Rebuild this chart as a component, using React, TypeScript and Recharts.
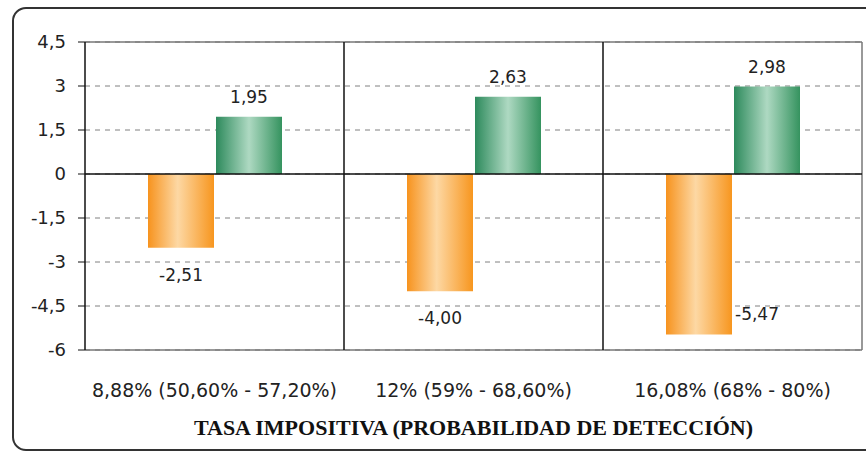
import { Bar, BarChart, CartesianGrid, LabelList, ReferenceLine, XAxis, YAxis } from 'recharts'

const categories = ['8,88%  (50,60% - 57,20%)', '12% (59% - 68,60%)', '16,08% (68% - 80%)']
const lossValues = [-2.51, -4.0, -5.47]
const gainValues = [1.95, 2.63, 2.98]
const yTicks = [-6, -4.5, -3, -1.5, 0, 1.5, 3, 4.5]
const axisTitle = 'TASA IMPOSITIVA (PROBABILIDAD DE DETECCIÓN)'

const data = categories.map((name, i) => ({ name, idx: i + 0.5, loss: lossValues[i], gain: gainValues[i] }))

const CHART_W = 866
const CHART_H = 454
const X_AXIS_H = 104
const PLOT_BOTTOM = CHART_H - X_AXIS_H
const font = 'Tahoma, "DejaVu Sans", sans-serif'

const comma = (v: number, digits?: number) =>
  (digits === undefined ? String(v) : v.toFixed(digits)).replace('.', ',')

function ValueLabel(props: any) {
  const { x, y, width, height, value } = props
  const top = Math.min(y, y + height)
  const bottom = Math.max(y, y + height)
  const text = comma(Number(value), 2)
  let tx = x + width / 2
  let ty = value >= 0 ? top - 20 : bottom + 27
  let anchor: 'middle' | 'start' = 'middle'
  if (ty + 8 > PLOT_BOTTOM) {
    tx = x + width + 3
    ty = bottom - 20
    anchor = 'start'
  }
  return (
    <text x={tx} y={ty} dy="0.35em" textAnchor={anchor} fill="#222" fontSize={17} fontFamily={font}>
      {text}
    </text>
  )
}

function CategoryTick(props: any) {
  const { x, y, payload } = props
  return (
    <text x={x} y={y + 32} dy="0.35em" textAnchor="middle" fill="#222" fontSize={19} fontFamily={font}>
      {payload.value}
    </text>
  )
}

export default function App() {
  return (
    <div style={{ position: 'absolute', left: 0, top: 0, width: CHART_W, height: CHART_H, background: '#fff' }}>
      <div
        style={{
          position: 'absolute',
          left: 12,
          top: 7,
          width: 880,
          height: 444,
          border: '2px solid #333',
          borderRadius: 14,
          boxSizing: 'border-box',
        }}
      />
      <BarChart
        width={CHART_W}
        height={CHART_H}
        data={data}
        margin={{ top: 42, right: 4, bottom: 0, left: 0 }}
        barSize={66}
        barGap={2}
        style={{ position: 'absolute', left: 0, top: 0 }}
      >
        <defs>
          <linearGradient id="orangeGrad" x1="0" y1="0" x2="1" y2="0">
            <stop offset="0" stopColor="#f7931e" />
            <stop offset="0.45" stopColor="#fdd8a4" />
            <stop offset="1" stopColor="#f7961f" />
          </linearGradient>
          <linearGradient id="greenGrad" x1="0" y1="0" x2="1" y2="0">
            <stop offset="0" stopColor="#2d8a5c" />
            <stop offset="0.5" stopColor="#aed9c2" />
            <stop offset="1" stopColor="#35935f" />
          </linearGradient>
        </defs>
        <CartesianGrid vertical={false} stroke="#808080" strokeDasharray="5 5" />
        <XAxis
          dataKey="name"
          height={X_AXIS_H}
          axisLine={false}
          tickLine={false}
          interval={0}
          tick={<CategoryTick />}
          label={{
            value: axisTitle,
            position: 'insideBottom',
            offset: 19,
            fill: '#111',
            fontSize: 22,
            fontWeight: 'bold',
            fontFamily: '"Liberation Serif", "Times New Roman", serif',
          }}
        />
        <XAxis xAxisId="sep" dataKey="idx" type="number" domain={[0, 3]} allowDataOverflow hide />
        <YAxis
          width={85}
          domain={[-6, 4.5]}
          ticks={yTicks}
          interval={0}
          axisLine={{ stroke: '#111', strokeWidth: 1.5 }}
          tickLine={{ stroke: '#111' }}
          tickSize={7}
          tickMargin={12}
          tickFormatter={(v) => comma(v)}
          tick={{ fill: '#222', fontSize: 18, fontFamily: font }}
        />
        <ReferenceLine y={4.5} stroke="#777" strokeWidth={1.5} />
        <ReferenceLine y={-6} stroke="#777" strokeWidth={1.5} />
        <ReferenceLine xAxisId="sep" x={3} stroke="#777" strokeWidth={1.5} ifOverflow="extendDomain" />
        <ReferenceLine xAxisId="sep" x={1} stroke="#111" strokeWidth={1.5} />
        <ReferenceLine xAxisId="sep" x={2} stroke="#111" strokeWidth={1.5} />
        <Bar dataKey="loss" fill="url(#orangeGrad)" isAnimationActive={false}>
          <LabelList dataKey="loss" content={<ValueLabel />} />
        </Bar>
        <Bar dataKey="gain" fill="url(#greenGrad)" isAnimationActive={false}>
          <LabelList dataKey="gain" content={<ValueLabel />} />
        </Bar>
        <ReferenceLine y={0} stroke="#111" strokeWidth={1.5} />
      </BarChart>
    </div>
  )
}
